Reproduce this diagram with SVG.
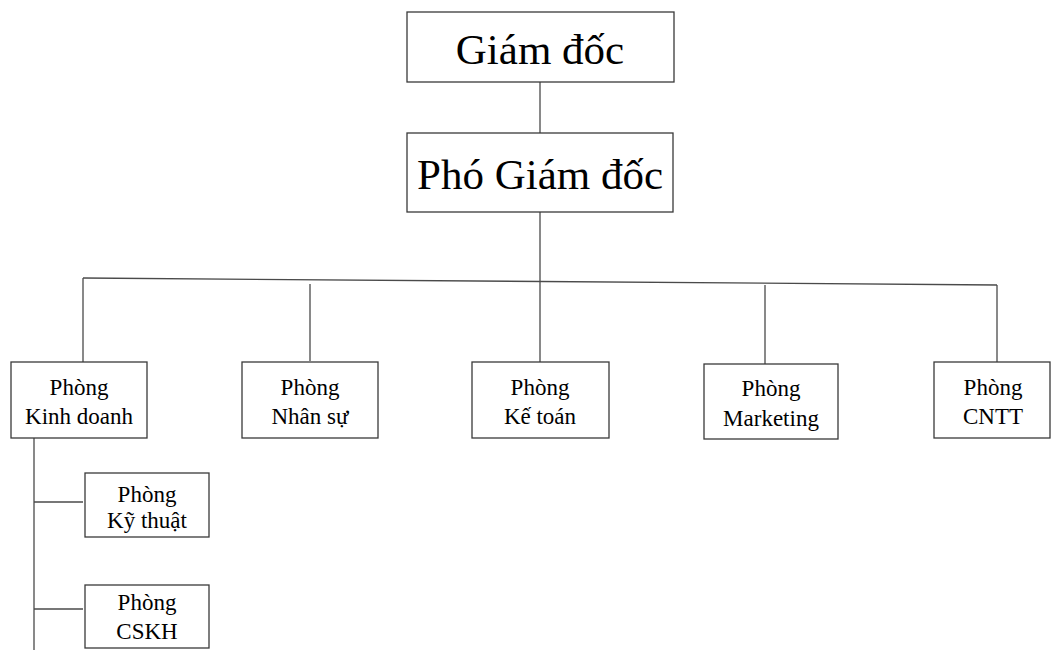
<svg xmlns="http://www.w3.org/2000/svg" width="1053" height="650" viewBox="0 0 1053 650">
<style>
.box{fill:#fff;stroke:#3a3a3a;stroke-width:1.3}
.ln{stroke:#4a4a4a;stroke-width:1.3;fill:none}
text{font-family:"Liberation Serif","Times New Roman",serif;fill:#000;text-anchor:middle}
.big{font-size:43px}
.sm{font-size:23px}
</style>
<rect width="1053" height="650" fill="#fff"/>
<g id="connectors">
<line class="ln" x1="540" y1="82" x2="540" y2="133"/>
<line class="ln" x1="540" y1="212" x2="540" y2="362"/>
<line class="ln" x1="83" y1="278" x2="997" y2="285"/>
<line class="ln" x1="83" y1="278" x2="83" y2="362"/>
<line class="ln" x1="310" y1="284" x2="310" y2="361"/>
<line class="ln" x1="765" y1="285" x2="765" y2="364"/>
<line class="ln" x1="997" y1="285" x2="997" y2="362"/>
<line class="ln" x1="34" y1="438" x2="34" y2="650"/>
<line class="ln" x1="34" y1="502" x2="83" y2="502"/>
<line class="ln" x1="34" y1="609" x2="83" y2="609"/>
</g>
<g id="giam-doc">
<rect class="box" x="407" y="12" width="267" height="70"/>
<text class="big" x="540" y="64">Giám đốc</text>
</g>
<g id="pho-giam-doc">
<rect class="box" x="407" y="133" width="266" height="79"/>
<text class="big" x="540" y="189">Phó Giám đốc</text>
</g>
<g id="kinh-doanh">
<rect class="box" x="11" y="362" width="136" height="76"/>
<text class="sm" x="79" y="395">Phòng</text>
<text class="sm" x="79" y="424">Kinh doanh</text>
</g>
<g id="nhan-su">
<rect class="box" x="242" y="362" width="136" height="76"/>
<text class="sm" x="310" y="395">Phòng</text>
<text class="sm" x="310" y="424">Nhân sự</text>
</g>
<g id="ke-toan">
<rect class="box" x="472" y="362" width="137" height="76"/>
<text class="sm" x="540" y="395">Phòng</text>
<text class="sm" x="540" y="424">Kế toán</text>
</g>
<g id="marketing">
<rect class="box" x="704" y="364" width="134" height="75"/>
<text class="sm" x="771" y="396">Phòng</text>
<text class="sm" x="771" y="426">Marketing</text>
</g>
<g id="cntt">
<rect class="box" x="934" y="362" width="116" height="76"/>
<text class="sm" x="993" y="395">Phòng</text>
<text class="sm" x="993" y="424">CNTT</text>
</g>
<g id="ky-thuat">
<rect class="box" x="85" y="473" width="124" height="64"/>
<text class="sm" x="147" y="502">Phòng</text>
<text class="sm" x="147" y="528">Kỹ thuật</text>
</g>
<g id="cskh">
<rect class="box" x="85" y="585" width="124" height="63"/>
<text class="sm" x="147" y="610">Phòng</text>
<text class="sm" x="147" y="639">CSKH</text>
</g>
</svg>
